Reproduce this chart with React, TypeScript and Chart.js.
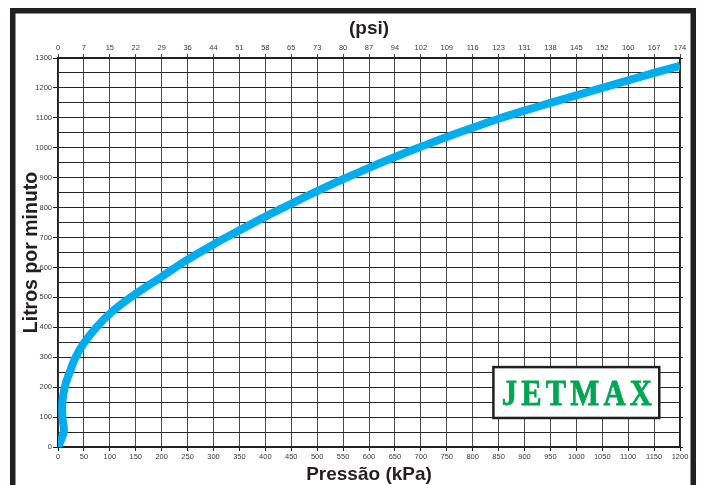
import { useEffect, useRef } from 'react';
import { Chart, registerables } from 'chart.js';

Chart.register(...registerables);

// Curve readings: pressure (kPa) vs flow (litros por minuto)
const pressureKPa = [0, 11, 8.5, 8.5, 13, 22.5, 34, 51, 74, 103, 141, 200, 250, 300, 350, 400, 450, 500, 550, 600, 650, 700, 750, 800, 850, 900, 950, 1000, 1050, 1100, 1150, 1200];
const flowLpm = [0, 50, 100, 150, 200, 250, 300, 350, 400, 450, 501, 569, 626, 677, 724, 770, 813, 855, 895, 933, 969, 1003, 1036, 1067, 1097, 1124, 1150, 1175, 1200, 1225, 1250, 1274];

// Top axis (psi) labels, one per 50 kPa grid line
const psiLabels = ['0', '7', '15', '22', '29', '36', '44', '51', '58', '65', '73', '80', '87', '94', '102', '109', '116', '123', '131', '138', '145', '152', '160', '167', '174'];

const kpaMin = 0;
const kpaMax = 1200;
const kpaStep = 50;
const flowMin = 0;
const flowMax = 1300;
const flowStep = 50;
const flowLabelEvery = 100;

const brandName = 'JETMAX';
// logo box in data units (kPa, L/min)
const logoKPa = [840, 1160];
const logoFlow = [97, 267];

const dark = '#231f20';
const curveColor = '#00aeef';
const brandGreen = '#00a651';
const tickFont = { family: '"Liberation Sans", Arial, sans-serif', size: 7.5 };
const titleFont = { family: '"Liberation Sans", Arial, sans-serif', size: 19, weight: 'bold' as const, lineHeight: 1 };

const framePlugin = {
  id: 'frame',
  afterDraw(chart: any) {
    const ctx = chart.ctx as CanvasRenderingContext2D;
    ctx.save();
    ctx.fillStyle = dark;
    ctx.fillRect(10, 8, 686, 5.5);
    ctx.fillRect(10, 8, 5.5, 480);
    ctx.fillRect(690.5, 8, 5.5, 480);
    ctx.restore();
  },
};

const logoPlugin = {
  id: 'logo',
  afterDatasetsDraw(chart: any) {
    const ctx = chart.ctx as CanvasRenderingContext2D;
    const xs = chart.scales.x;
    const ys = chart.scales.y;
    const l = xs.getPixelForValue(logoKPa[0]);
    const r = xs.getPixelForValue(logoKPa[1]);
    const t = ys.getPixelForValue(logoFlow[1]);
    const b = ys.getPixelForValue(logoFlow[0]);
    const w = r - l;
    const h = b - t;
    ctx.save();
    ctx.fillStyle = '#ffffff';
    ctx.fillRect(l, t, w, h);
    ctx.strokeStyle = dark;
    ctx.lineWidth = 2.5;
    ctx.strokeRect(l, t, w, h);

    ctx.font = 'bold 36px "Liberation Serif", "Times New Roman", serif';
    ctx.textAlign = 'left';
    ctx.textBaseline = 'alphabetic';
    const sx = 0.85;
    const letters = brandName.split('');
    const widths = letters.map((ch) => ctx.measureText(ch).width * sx);
    const textLeft = l + w * 0.05;
    const textRight = l + w * 0.955;
    const sum = widths.reduce((a, v) => a + v, 0);
    const gap = (textRight - textLeft - sum) / (letters.length - 1);
    const baseY = t + h * 0.745;
    ctx.fillStyle = brandGreen;
    ctx.strokeStyle = brandGreen;
    ctx.lineWidth = 0.8;
    let cx = textLeft;
    letters.forEach((ch, i) => {
      ctx.save();
      ctx.translate(cx, baseY);
      ctx.scale(sx, 1);
      ctx.fillText(ch, 0, 0);
      ctx.strokeText(ch, 0, 0);
      ctx.restore();
      cx += widths[i] + gap;
    });
    ctx.restore();
  },
};

const majorTickColor = (ctx: any) =>
  ctx.tick && ctx.tick.value % flowLabelEvery === 0 ? dark : 'rgba(0,0,0,0)';

export default function App() {
  const ref = useRef<HTMLCanvasElement | null>(null);

  useEffect(() => {
    if (!ref.current) return;
    const data = pressureKPa.map((p, i) => ({ x: p, y: flowLpm[i] }));
    const chart = new Chart(ref.current, {
      type: 'line',
      data: {
        datasets: [
          {
            data,
            borderColor: curveColor,
            borderWidth: 8,
            pointRadius: 0,
            tension: 0.4,
            fill: false,
            clip: 0,
            xAxisID: 'x',
            yAxisID: 'y',
          } as any,
        ],
      },
      options: {
        responsive: false,
        animation: false,
        layout: { padding: 0 },
        plugins: {
          legend: { display: false },
          tooltip: { enabled: false },
        },
        scales: {
          x: {
            type: 'linear',
            position: 'bottom',
            min: kpaMin,
            max: kpaMax,
            afterFit: (s: any) => { s.height = 38; },
            ticks: {
              stepSize: kpaStep,
              autoSkip: false,
              maxRotation: 0,
              padding: 1,
              color: '#3a3a3a',
              font: tickFont,
              callback: (v: any) => String(v),
            },
            grid: { color: '#4a4a4a', lineWidth: 1, tickLength: 4, tickColor: dark },
            border: { display: true, color: dark, width: 1.5 },
            title: { display: true, text: 'Pressão (kPa)', color: dark, font: titleFont, padding: { top: 0, bottom: 1 } },
          },
          x2: {
            type: 'linear',
            position: 'top',
            min: kpaMin,
            max: kpaMax,
            afterFit: (s: any) => { s.height = 58; },
            ticks: {
              stepSize: kpaStep,
              autoSkip: false,
              maxRotation: 0,
              padding: 2,
              color: '#3a3a3a',
              font: tickFont,
              callback: (v: any) => psiLabels[Math.round(Number(v) / kpaStep)] ?? '',
            },
            grid: { drawOnChartArea: false, tickLength: 4, tickColor: '#4a4a4a' },
            border: { display: true, color: dark, width: 1.5 },
            title: { display: true, text: '(psi)', color: dark, font: titleFont, padding: { top: 19, bottom: 0 } },
          },
          y: {
            type: 'linear',
            position: 'left',
            min: flowMin,
            max: flowMax,
            afterFit: (s: any) => { s.width = 58; },
            ticks: {
              stepSize: flowStep,
              autoSkip: false,
              padding: 1,
              color: '#3a3a3a',
              font: tickFont,
              callback: (v: any) => (Number(v) % flowLabelEvery === 0 ? String(v) : ''),
            },
            grid: { color: '#262626', lineWidth: 1, tickLength: 5, tickColor: majorTickColor },
            border: { display: true, color: dark, width: 1.5 },
            title: { display: true, text: 'Litros por minuto', color: dark, font: { ...titleFont, size: 19.5 }, padding: { top: 22, bottom: 0 } },
          },
          y2: {
            type: 'linear',
            position: 'right',
            min: flowMin,
            max: flowMax,
            afterFit: (s: any) => { s.width = 21; },
            ticks: { stepSize: flowStep, display: false },
            grid: { drawOnChartArea: false, tickLength: 3, tickColor: majorTickColor },
            border: { display: true, color: dark, width: 1.5 },
          },
        },
      } as any,
      plugins: [logoPlugin, framePlugin],
    });
    return () => chart.destroy();
  }, []);

  return (
    <div style={{ position: 'fixed', left: 0, top: 0, width: 701, height: 485, background: '#ffffff' }}>
      <canvas ref={ref} width={701} height={485} style={{ display: 'block' }} />
    </div>
  );
}
